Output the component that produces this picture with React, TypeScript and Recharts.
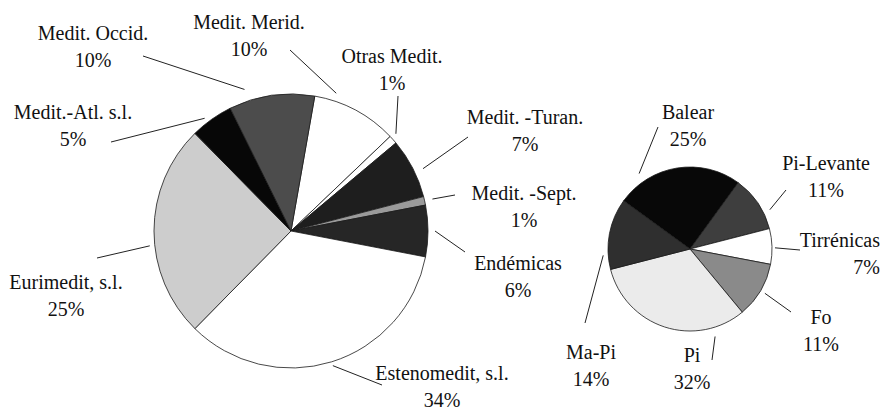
import { Cell, Pie, PieChart } from 'recharts';

// Corotipos (left pie), clockwise from "Medit. Merid."
const originNames = [
  'Medit. Merid.',
  'Otras Medit.',
  'Medit. -Turan.',
  'Medit. -Sept.',
  'Endémicas',
  'Estenomedit, s.l.',
  'Eurimedit, s.l.',
  'Medit.-Atl. s.l.',
  'Medit. Occid.',
];
const originShares = [10, 1, 7, 1, 6, 34, 25, 5, 10];

// Endemics (right pie), clockwise from "Balear"
const endemicNames = ['Balear', 'Pi-Levante', 'Tirrénicas', 'Fo', 'Pi', 'Ma-Pi'];
const endemicShares = [25, 11, 7, 11, 32, 14];

const originFills = ['#ffffff', '#ffffff', '#1e1e1e', '#9a9a9a', '#262626', '#ffffff', '#cdcdcd', '#070707', '#4c4c4c'];
const endemicFills = ['#080808', '#3e3e3e', '#ffffff', '#8a8a8a', '#ebebeb', '#2f2f2f'];

const originData = originNames.map((name, i) => ({ name, value: originShares[i] }));
const endemicData = endemicNames.map((name, i) => ({ name, value: endemicShares[i] }));

const LEFT = { cx: 291, cy: 231, r: 137 };
const RIGHT = { cx: 690, cy: 249, r: 82 };

// label placement: text / leader-line outer end as offsets from the pie centre,
// shift = degrees (clockwise) the line start moves away from the slice mid angle
type LabelLayout = {
  tx: number;
  ty: number;
  ex: number;
  ey: number;
  shift: number;
  gap: number;
  anchor?: 'middle' | 'end';
};

const labelLayout: Record<string, LabelLayout> = {
  'Medit. Occid.': { tx: -198, ty: -198, ex: -148, ey: -175, shift: -10, gap: 12 },
  'Medit. Merid.': { tx: -42, ty: -209, ex: -1, ey: -181, shift: -10, gap: 8 },
  'Otras Medit.': { tx: 101, ty: -175, ex: 107, ey: -135, shift: -1, gap: 6 },
  'Medit. -Turan.': { tx: 234, ty: -114, ex: 177, ey: -94, shift: 2, gap: 9 },
  'Medit. -Sept.': { tx: 233, ty: -38, ex: 164, ey: -36, shift: 0, gap: 8 },
  'Endémicas': { tx: 227, ty: 32, ex: 174, ey: 21, shift: 0, gap: 7 },
  'Estenomedit, s.l.': { tx: 151, ty: 142, ex: 91, ey: 154, shift: 0, gap: 4 },
  'Eurimedit, s.l.': { tx: -225, ty: 51, ex: -194, ey: 27, shift: -6, gap: 5 },
  'Medit.-Atl. s.l.': { tx: -218, ty: -119, ex: -180, ey: -89, shift: -2, gap: 5 },
  Balear: { tx: -2, ty: -137, ex: -32, ey: -122, shift: -25, gap: 9 },
  'Pi-Levante': { tx: 136, ty: -86, ex: 96, ey: -59, shift: 8, gap: 7 },
  'Tirrénicas': { tx: 190, ty: -9, ex: 110, ey: 1, shift: 1, gap: 3, anchor: 'end' },
  Fo: { tx: 131, ty: 68, ex: 101, ey: 63, shift: 0, gap: 5 },
  Pi: { tx: 2, ty: 106, ex: 22, ey: 111, shift: -34, gap: 9 },
  'Ma-Pi': { tx: -99, ty: 103, ex: -105, ey: 74, shift: -15, gap: 5 },
};

const FONT = "'Liberation Serif', 'Times New Roman', serif";
const LINE_GAP = 27;

// leader lines are drawn by the pie's label hook (uses its own midAngle/outerRadius)
function renderLeader(props: any) {
  const { cx, cy, midAngle, outerRadius } = props;
  const name: string = props.payload?.name ?? props.name;
  const l = labelLayout[name];
  if (!l) return null;
  const a = ((midAngle - l.shift) * Math.PI) / 180;
  const r = outerRadius + l.gap;
  return (
    <line
      x1={cx + r * Math.cos(a)}
      y1={cy - r * Math.sin(a)}
      x2={cx + l.ex}
      y2={cy + l.ey}
      stroke="#222"
      strokeWidth={1}
    />
  );
}

function TextLabels({ names, values, pie }: { names: string[]; values: number[]; pie: { cx: number; cy: number } }) {
  return (
    <>
      {names.map((name, i) => {
        const l = labelLayout[name];
        const shiftX = l.anchor === 'end' ? '-100%' : '-50%';
        const lines = [name, `${values[i]}%`];
        return lines.map((txt, j) => (
          <div
            key={`${name}-${j}`}
            style={{
              position: 'absolute',
              left: pie.cx + l.tx,
              top: pie.cy + l.ty + j * LINE_GAP,
              transform: `translate(${shiftX}, -50%)`,
              fontFamily: FONT,
              fontSize: 20,
              lineHeight: '20px',
              whiteSpace: 'nowrap',
              color: '#111',
            }}
          >
            {txt}
          </div>
        ));
      })}
    </>
  );
}

export default function App() {
  return (
    <div style={{ position: 'absolute', left: 0, top: 0, width: 896, height: 408, background: '#fff', overflow: 'hidden' }}>
      <PieChart width={896} height={408} margin={{ top: 0, right: 0, bottom: 0, left: 0 }}>
        <Pie
          data={originData}
          dataKey="value"
          nameKey="name"
          cx={LEFT.cx}
          cy={LEFT.cy}
          outerRadius={LEFT.r}
          startAngle={80}
          endAngle={-280}
          stroke="#1a1a1a"
          strokeWidth={0.8}
          label={renderLeader}
          labelLine={false}
          isAnimationActive={false}
        >
          {originData.map((d, i) => (
            <Cell key={d.name} fill={originFills[i]} />
          ))}
        </Pie>
        <Pie
          data={endemicData}
          dataKey="value"
          nameKey="name"
          cx={RIGHT.cx}
          cy={RIGHT.cy}
          outerRadius={RIGHT.r}
          startAngle={144}
          endAngle={-216}
          stroke="#1a1a1a"
          strokeWidth={0.8}
          label={renderLeader}
          labelLine={false}
          isAnimationActive={false}
        >
          {endemicData.map((d, i) => (
            <Cell key={d.name} fill={endemicFills[i]} />
          ))}
        </Pie>
      </PieChart>
      <div style={{ position: 'absolute', left: 0, top: 0, width: 896, height: 408, pointerEvents: 'none' }}>
        <TextLabels names={originNames} values={originShares} pie={LEFT} />
        <TextLabels names={endemicNames} values={endemicShares} pie={RIGHT} />
      </div>
    </div>
  );
}
